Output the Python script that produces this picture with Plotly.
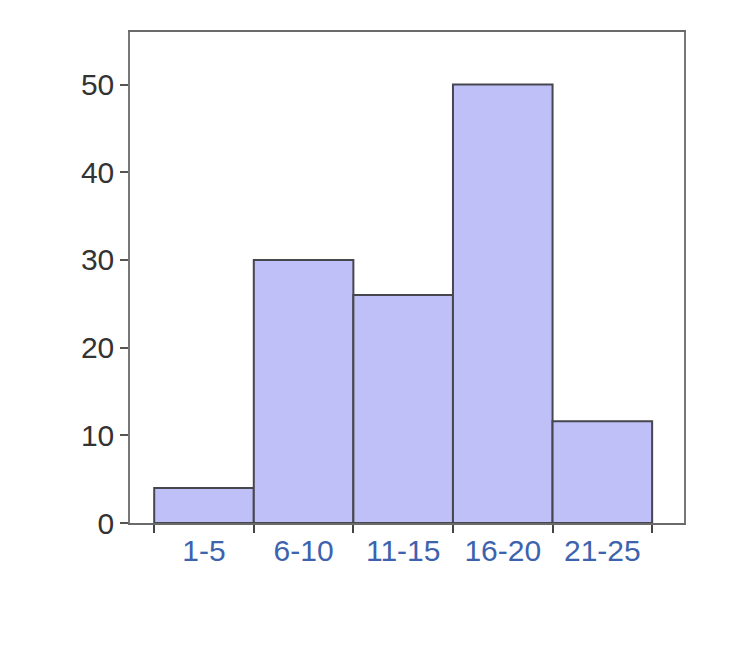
import plotly.graph_objects as go

classes = ["1-5", "6-10", "11-15", "16-20", "21-25"]
effectifs = [4, 30, 26, 50, 11.6]
graduations_y = [0, 10, 20, 30, 40, 50]

fig = go.Figure(
    go.Bar(
        x=classes,
        y=effectifs,
        width=1,
        marker=dict(color="#c0c0f8", line=dict(color="#46464e", width=2)),
    )
)

# la page ajoute une marge de 8 px autour du graphique
fig.update_layout(
    width=742,
    height=656,
    margin=dict(l=122, r=66, t=24, b=141),
    plot_bgcolor="white",
    paper_bgcolor="white",
    showlegend=False,
    font=dict(family="Liberation Sans, Arial, sans-serif"),
)
fig.update_xaxes(
    type="category",
    range=[-0.743, 4.82],
    tickson="boundaries",
    ticks="outside",
    ticklen=8,
    tickwidth=1.5,
    tickcolor="#444",
    tickfont=dict(size=30, color="#3d63ae"),
    showline=True,
    linecolor="#6a6a6a",
    linewidth=1.5,
    mirror=True,
    showgrid=False,
)
fig.update_yaxes(
    range=[0, 56],
    tickvals=graduations_y,
    ticks="outside",
    ticklen=8,
    tickwidth=1.5,
    tickcolor="#555",
    tickfont=dict(size=30, color="#333"),
    showline=True,
    linecolor="#777",
    linewidth=1.5,
    mirror=True,
    showgrid=False,
    zeroline=False,
)

fig.write_html("out.html")
